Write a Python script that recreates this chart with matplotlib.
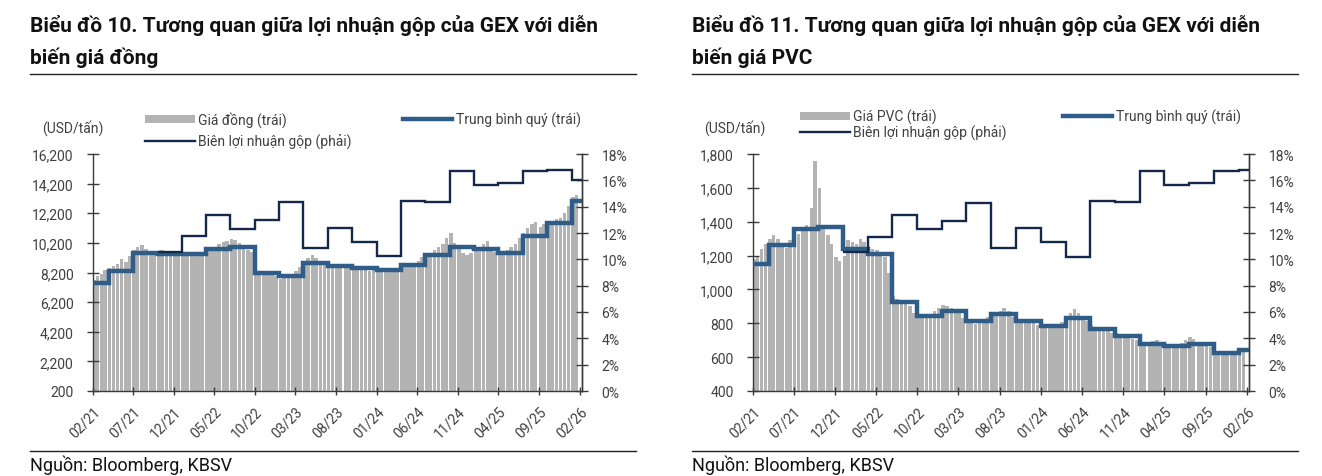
import numpy as np
import pandas as pd
import matplotlib
matplotlib.use("Agg")
import matplotlib.pyplot as plt
import matplotlib.dates as mdates
from matplotlib.lines import Line2D
from matplotlib.patches import Rectangle

plt.rcParams['font.family'] = ['Roboto', 'Noto Sans', 'DejaVu Sans']

# ---- data ----
# semi-monthly price readings, Feb 2021 -> Jan 2026
bar_dates = pd.date_range("2021-02-01", periods=120, freq="SMS")

copper_price = [
    7700, 7950, 8100, 8400, 8500, 8650, 8800, 9100, 8900, 9300,
    9700, 9900, 10050, 9800, 9600, 9450, 9600, 9750, 9500, 9400,
    9500, 9300, 9350, 9500, 9550, 9450, 9500, 9550, 9700, 9900,
    9950, 10100, 10250, 10300, 10450, 10400, 10200, 9900, 9700, 9600,
    8300, 8100, 8000, 8050, 8150, 7950, 7750, 7800, 7850, 8000,
    8300, 8550, 8900, 9200, 9350, 9150, 9000, 8850, 8700, 8650,
    8700, 8550, 8500, 8550, 8400, 8350, 8500, 8400, 8300, 8350,
    8300, 8450, 8400, 8300, 8350, 8450, 8550, 8700, 8800, 8850,
    9000, 9250, 9400, 9550, 9700, 9900, 10150, 10500, 10900, 10200,
    9800, 9550, 9400, 9500, 9700, 9800, 10100, 10350, 9950, 9600,
    9400, 9500, 9700, 9900, 10100, 10500, 10900, 11200, 11500, 11600,
    11300, 11450, 11500, 11700, 11800, 11900, 12200, 12700, 13300, 13400,
]

pvc_price = [
    1180, 1200, 1240, 1270, 1300, 1320, 1300, 1270, 1245, 1290,
    1310, 1330, 1345, 1380, 1480, 1760, 1600, 1380, 1320, 1270,
    1190, 1170, 1200, 1290, 1280, 1270, 1300, 1280, 1250, 1240,
    1235, 1220, 1190, 1100, 960, 945, 930, 920, 900, 860,
    835, 840, 845, 855, 870, 890, 910, 905, 890, 880,
    870, 830, 815, 805, 795, 800, 815, 835, 850, 860,
    870, 890, 870, 835, 825, 820, 815, 810, 800, 790,
    785, 780, 775, 780, 790, 810, 830, 860, 885, 860,
    840, 815, 790, 775, 765, 760, 755, 745, 740, 735,
    730, 725, 710, 700, 690, 685, 690, 695, 700, 680,
    670, 665, 670, 675, 685, 700, 720, 705, 690, 680,
    675, 660, 630, 625, 620, 615, 612, 615, 625, 640,
]

# quarterly averages, Q1/21 -> Q1/26
quarters = ["Q1/21", "Q2/21", "Q3/21", "Q4/21", "Q1/22", "Q2/22", "Q3/22",
            "Q4/22", "Q1/23", "Q2/23", "Q3/23", "Q4/23", "Q1/24", "Q2/24",
            "Q3/24", "Q4/24", "Q1/25", "Q2/25", "Q3/25", "Q4/25", "Q1/26"]
copper_qavg = [7480, 8335, 9500, 9480, 9480, 9770, 9950, 8200, 7975, 8830,
               8650, 8515, 8380, 8695, 9370, 9950, 9820, 9550, 10670, 11570,
               13030]
pvc_qavg = [1150, 1262, 1357, 1369, 1239, 1207, 928, 841, 875, 816,
            855, 816, 782, 829, 766, 723, 678, 668, 680, 625, 644]

# gross margin (%), quarterly
margin_copper = [10.55, 11.74, 13.38, 12.27, 12.95, 14.34, 10.88, 12.40,
                 11.31, 10.23, 14.46, 14.39, 16.68, 15.65, 15.80, 16.68,
                 16.78, 16.05]          # Q4/21 -> Q1/26
margin_pvc = [10.55, 11.69, 13.38, 12.27, 12.90, 14.31, 10.86, 12.35,
              11.29, 10.20, 14.44, 14.39, 16.68, 15.65, 15.83, 16.73,
              16.78]                    # Q1/22 -> Q1/26

tick_dates = pd.date_range("2021-02-01", "2026-02-01", freq="5MS")

W, H = 1322, 477
fig = plt.figure(figsize=(W / 100, H / 100), dpi=100)


def fx(px):
    return px / W


def fy(py):
    return 1 - py / H


def q_edges(first, n):
    # calendar quarter boundaries, first one clipped to Feb 2021, last to end
    starts = pd.period_range(first, periods=n, freq="Q").start_time
    edges = [max(s, pd.Timestamp("2021-02-01")) for s in starts]
    edges.append(pd.Timestamp("2026-02-08"))
    return mdates.date2num(edges)


BAR_C = "#b3b3b3"
AVG_C = "#2f5d87"
MAR_C = "#14294a"
TXT_C = "#404040"


def draw_panel(x0, x_ax0, x_ax1, title1, title2, prices, qavg, margin,
               margin_start, ylo, yhi, ystep, bar_label, leg):
    # title + rules
    fig.text(fx(x0), fy(25), title1, fontsize=15, fontweight="bold",
             color="#111111", va="center")
    fig.text(fx(x0), fy(58), title2, fontsize=15, fontweight="bold",
             color="#111111", va="center")
    fig.add_artist(Line2D([fx(x0), fx(x0 + 606)], [fy(75), fy(75)],
                          color="#222222", lw=1))
    fig.add_artist(Line2D([fx(x0), fx(x0 + 606)], [fy(452), fy(452)],
                          color="#222222", lw=1))
    fig.text(fx(x0), fy(465), "Nguồn: Bloomberg, KBSV", fontsize=13,
             color="#111111", va="center")

    ax = fig.add_axes([fx(x_ax0), fy(392), fx(x_ax1) - fx(x_ax0),
                       fy(155) - fy(392)])
    xb = mdates.date2num(bar_dates) + 3.5
    ax.bar(xb, prices, width=13, color=BAR_C, linewidth=0, zorder=1)
    ax.stairs(qavg, q_edges("2021Q1", len(qavg)), baseline=None,
              color=AVG_C, lw=3.2, zorder=3)
    ax.set_ylim(ylo, yhi)
    ax.set_yticks(np.arange(ylo, yhi + 1, ystep))
    ax.yaxis.set_major_formatter(matplotlib.ticker.StrMethodFormatter("{x:,.0f}"))
    ax.set_xlim(mdates.date2num(pd.Timestamp("2021-02-01")),
                mdates.date2num(pd.Timestamp("2026-02-08")))
    ax.set_xticks(mdates.date2num(tick_dates))
    ax.set_xticklabels([d.strftime("%m/%y") for d in tick_dates],
                       rotation=45, ha="right", va="top",
                       rotation_mode="anchor")

    ax2 = ax.twinx()
    ax2.stairs(margin, q_edges(margin_start, len(margin)), baseline=None,
               color=MAR_C, lw=1.7, zorder=4)
    ax2.set_ylim(0, 18)
    ax2.set_yticks(np.arange(0, 19, 2))
    ax2.set_yticklabels([f"{v}%" for v in range(0, 19, 2)])

    for a in (ax, ax2):
        a.set_facecolor("none")
        a.spines["top"].set_visible(False)
        for s in ("left", "right", "bottom"):
            a.spines[s].set_color("#3a3a3a")
            a.spines[s].set_linewidth(1)
        a.tick_params(direction="inout", length=8, width=1, color="#3a3a3a",
                      labelsize=10, labelcolor=TXT_C, pad=4)
    ax.tick_params(axis="x", length=6, pad=6)
    ax.tick_params(axis="y", pad=10)
    ax2.tick_params(axis="y", pad=10)
    ax2.spines["left"].set_visible(False)
    ax2.spines["bottom"].set_visible(False)

    # unit label
    fig.text(fx(x0 + 12), fy(128), "(USD/tấn)", fontsize=10, color=TXT_C,
             va="center")

    # legend (drawn by hand to match the layout)
    (px_bar, py_bar), (px_avg, py_avg), (px_mar, py_mar) = leg
    fig.add_artist(Rectangle((fx(px_bar), fy(py_bar + 4)), fx(50), 8 / H,
                             color=BAR_C, lw=0))
    fig.text(fx(px_bar + 53), fy(py_bar), bar_label, fontsize=10,
             color=TXT_C, va="center")
    fig.add_artist(Line2D([fx(px_avg), fx(px_avg + 49)], [fy(py_avg)] * 2,
                          color=AVG_C, lw=3.2))
    fig.text(fx(px_avg + 53), fy(py_avg), "Trung bình quý (trái)", fontsize=10,
             color=TXT_C, va="center")
    fig.add_artist(Line2D([fx(px_mar), fx(px_mar + 50)], [fy(py_mar)] * 2,
                          color=MAR_C, lw=1.7))
    fig.text(fx(px_mar + 53), fy(py_mar), "Biên lợi nhuận gộp (phải)",
             fontsize=10, color=TXT_C, va="center")


draw_panel(30, 93, 582,
           "Biểu đồ 10. Tương quan giữa lợi nhuận gộp của GEX với diễn",
           "biến giá đồng", copper_price, copper_qavg, margin_copper, "2021Q4",
           200, 16200, 2000, "Giá đồng (trái)",
           [(145, 120), (403, 120), (145, 142)])

draw_panel(692, 753, 1249,
           "Biểu đồ 11. Tương quan giữa lợi nhuận gộp của GEX với diễn",
           "biến giá PVC", pvc_price, pvc_qavg, margin_pvc, "2022Q1",
           400, 1800, 200, "Giá PVC (trái)",
           [(800, 117), (1063, 117), (800, 133)])

fig.savefig("out.png", dpi=100, facecolor="white")
